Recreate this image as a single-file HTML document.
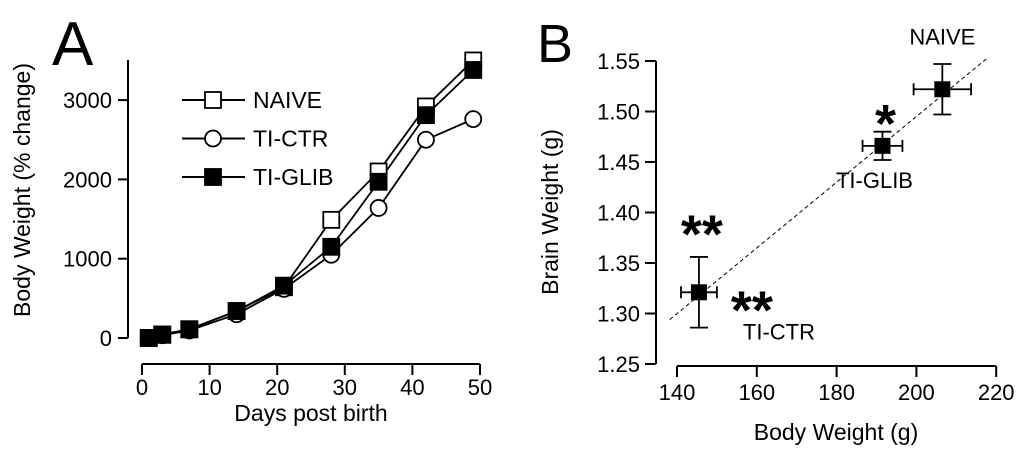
<!DOCTYPE html>
<html><head><meta charset="utf-8"><style>
body{margin:0;background:#fff;width:1024px;height:455px;overflow:hidden}
svg{font-family:"Liberation Sans",Arial,sans-serif}
</style></head><body>
<svg id="s" width="1024" height="455">
<text x="52" y="65" font-size="62">A</text>
<text x="537" y="62" font-size="54">B</text>
<g id="A"></g>
<g id="B"></g>
</svg>
<script>
const days=[1,3,7,14,21,28,35,42,49];
const naive=[0,40,110,340,640,1490,2100,2920,3500];
const ctr=[0,35,95,300,620,1050,1640,2500,2760];
const glib=[0,45,110,340,660,1150,1970,2810,3380];
const aXTicks=[0,10,20,30,40,50];
const aYTicks=[0,1000,2000,3000];
const bNames=['NAIVE','TI-GLIB','TI-CTR'];
const bBody=[206.5,191.5,145.5];
const bBodyErr=[7.2,5,4.5];
const bBrain=[1.522,1.466,1.321];
const bBrainErr=[0.025,0.014,0.035];
const bXTicks=[140,160,180,200,220];
const bYTicks=[1.25,1.30,1.35,1.40,1.45,1.50,1.55];
const fit=[[138.2,1.294],[217.5,1.552]];
const NS='http://www.w3.org/2000/svg';
function el(p,t,a,txt){const e=document.createElementNS(NS,t);for(const k in a)e.setAttribute(k,a[k]);if(txt!==undefined)e.textContent=txt;p.appendChild(e);return e;}
const A=document.getElementById('A'),B=document.getElementById('B');
const ax=d=>142+d*6.76, ay=v=>338-v*0.0793;
let e;
e=el(A,'line',{x1:128,y1:60,x2:128,y2:338,stroke:'#000','stroke-width':2});

e=el(A,'line',{x1:ax(0),y1:364,x2:ax(50),y2:364,stroke:'#000','stroke-width':2});

aYTicks.forEach(v=>{el(A,'line',{x1:118,y1:ay(v),x2:128,y2:ay(v),stroke:'#000','stroke-width':2});
e=el(A,'text',{x:112,y:ay(v)+8,'font-size':22,'text-anchor':'end'},v);
});
aXTicks.forEach(v=>{el(A,'line',{x1:ax(v),y1:364,x2:ax(v),y2:375,stroke:'#000','stroke-width':2});
e=el(A,'text',{x:ax(v),y:395,'font-size':22,'text-anchor':'middle'},v);
});
e=el(A,'text',{x:311,y:421,'font-size':23,'text-anchor':'middle'},'Days post birth');

e=el(A,'text',{x:0,y:0,'font-size':23,'text-anchor':'middle',transform:'translate(30,190) rotate(-90)'},'Body Weight  (% change)');

function marker(g,x,y,type){if(type==='c')return el(g,'circle',{cx:x,cy:y,r:8,fill:'#fff',stroke:'#000','stroke-width':1.8});
return el(g,'rect',{x:x-8,y:y-8,width:16,height:16,fill:type==='f'?'#000':'#fff',stroke:'#000','stroke-width':1.8});}
const series=[[naive,'o','naive'],[ctr,'c','ti-ctr'],[glib,'f','ti-glib']];
series.forEach(([vals,t,n])=>{e=el(A,'polyline',{points:days.map((d,i)=>ax(d)+','+ay(vals[i])).join(' '),fill:'none',stroke:'#000','stroke-width':1.8});
});
series.forEach(([vals,t,n])=>{days.forEach((d,i)=>{e=marker(A,ax(d),ay(vals[i]),t);
});});
series.forEach(([vals,t,n],k)=>{const y=100+k*38.5;
el(A,'line',{x1:182,y1:y,x2:245,y2:y,stroke:'#000','stroke-width':2});
e=marker(A,213,y,t);
e=el(A,'text',{x:253,y:y+8,'font-size':23},['NAIVE','TI-CTR','TI-GLIB'][k]);
});
const bx=g=>677+(g-140)*3.99, by=v=>61+(1.55-v)*1010;
e=el(B,'line',{x1:656,y1:61,x2:656,y2:364,stroke:'#000','stroke-width':2});

e=el(B,'line',{x1:bx(140),y1:366,x2:bx(220),y2:366,stroke:'#000','stroke-width':2});

bYTicks.forEach(v=>{el(B,'line',{x1:645,y1:by(v),x2:656,y2:by(v),stroke:'#000','stroke-width':2});
e=el(B,'text',{x:640,y:by(v)+8,'font-size':22,'text-anchor':'end'},v.toFixed(2));
});
bXTicks.forEach(v=>{el(B,'line',{x1:bx(v),y1:366,x2:bx(v),y2:377,stroke:'#000','stroke-width':2});
e=el(B,'text',{x:bx(v),y:400,'font-size':22,'text-anchor':'middle'},v);
});
e=el(B,'text',{x:836,y:440,'font-size':23,'text-anchor':'middle'},'Body Weight (g)');

e=el(B,'text',{x:0,y:0,'font-size':23,'text-anchor':'middle',transform:'translate(558,212) rotate(-90)'},'Brain Weight (g)');

e=el(B,'line',{x1:bx(fit[0][0]),y1:by(fit[0][1]),x2:bx(fit[1][0]),y2:by(fit[1][1]),stroke:'#000','stroke-width':1,'stroke-dasharray':'4,3'});

bNames.forEach((n,i)=>{const x=bx(bBody[i]),y=by(bBrain[i]);
const x1=bx(bBody[i]-bBodyErr[i]),x2=bx(bBody[i]+bBodyErr[i]),y1=by(bBrain[i]+bBrainErr[i]),y2=by(bBrain[i]-bBrainErr[i]);
e=el(B,'path',{d:`M${x1},${y}H${x2}M${x1},${y-6}V${y+6}M${x2},${y-6}V${y+6}M${x},${y1}V${y2}M${x-9},${y1}H${x+9}M${x-9},${y2}H${x+9}`,stroke:'#000','stroke-width':1.8,fill:'none'});

e=el(B,'rect',{x:x-8,y:y-8,width:16,height:16,fill:'#000'});
});
const labs=[['NAIVE',x=>x,y=>y-45,'middle',22],['TI-GLIB',x=>x-8,y=>y+42,'middle',22],['TI-CTR',x=>x+80,y=>y+47,'middle',22]];
labs.forEach(([t,fx,fy,an,fs],i)=>{e=el(B,'text',{x:fx(bx(bBody[i])),y:fy(by(bBrain[i])),'font-size':fs,'text-anchor':an},t);
});
e=el(B,'text',{x:bx(bBody[1])+3,y:by(bBrain[1])-4,'font-size':54,'font-weight':'bold','text-anchor':'middle'},'*');

e=el(B,'text',{x:bx(bBody[2])+3,y:by(bBrain[2])-40,'font-size':54,'font-weight':'bold','text-anchor':'middle'},'**');

e=el(B,'text',{x:bx(bBody[2])+53,y:by(bBrain[2])+36,'font-size':54,'font-weight':'bold','text-anchor':'middle'},'**');

</script>
</body></html>
